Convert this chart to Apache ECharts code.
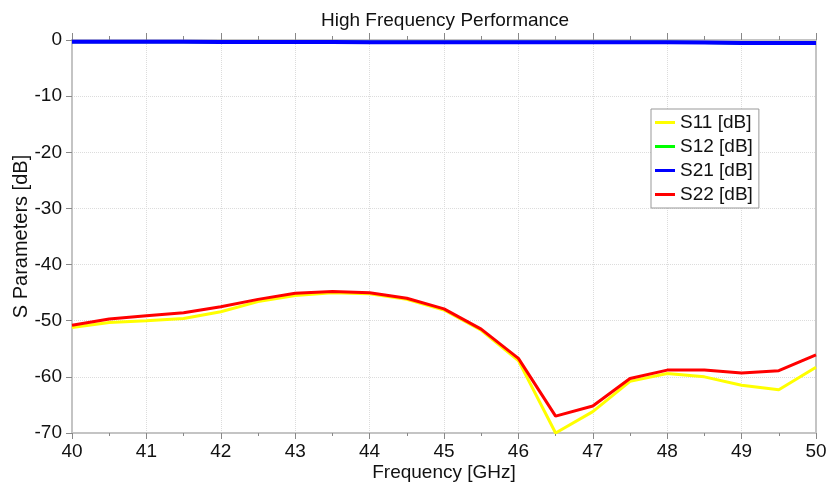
<!DOCTYPE html>
<html>
<head>
<meta charset="utf-8">
<script src="https://cdn.jsdelivr.net/npm/echarts@6/dist/echarts.min.js"></script>
<style>
  html, body { margin: 0; padding: 0; background: #fff; }
  #main { width: 830px; height: 487px; }
</style>
</head>
<body>
<div id="main"></div>
<script>
// frequency points (GHz)
var freq = [40, 40.5, 41, 41.5, 42, 42.5, 43, 43.5, 44, 44.5, 45, 45.5, 46, 46.5, 47, 47.5, 48, 48.5, 49, 49.5, 50];
// S parameters (dB)
var s11 = [-51.2, -50.3, -50.0, -49.6, -48.4, -46.6, -45.5, -45.0, -45.2, -46.2, -48.1, -51.7, -57.1, -70.0, -66.2, -60.8, -59.4, -60.0, -61.5, -62.3, -58.3];
var s12 = [-0.3, -0.3, -0.3, -0.3, -0.35, -0.35, -0.35, -0.35, -0.4, -0.4, -0.4, -0.4, -0.4, -0.4, -0.4, -0.4, -0.4, -0.45, -0.55, -0.55, -0.55];
var s21 = [-0.3, -0.3, -0.3, -0.3, -0.35, -0.35, -0.35, -0.35, -0.4, -0.4, -0.4, -0.4, -0.4, -0.4, -0.4, -0.4, -0.4, -0.45, -0.55, -0.55, -0.55];
var s22 = [-50.8, -49.7, -49.1, -48.6, -47.5, -46.2, -45.1, -44.8, -45.0, -46.0, -47.9, -51.5, -56.7, -67.0, -65.2, -60.3, -58.8, -58.8, -59.3, -58.9, -56.1];

var seriesNames = ['S11 [dB]', 'S12 [dB]', 'S21 [dB]', 'S22 [dB]'];
var seriesColors = ['#ffff00', '#00ff00', '#0000ff', '#ff0000'];
var seriesData = [s11, s12, s21, s22];

var font = 'Liberation Sans, Arial, sans-serif';
var axisGray = '#c4c4c4';

function pairs(ys) {
  return freq.map(function (f, i) { return [f, ys[i]]; });
}

var myChart = echarts.init(document.getElementById('main'));

var option = {
  animation: false,
  backgroundColor: '#fff',
  textStyle: { fontFamily: font },
  title: {
    text: 'High Frequency Performance',
    left: 316,
    top: 6,
    textStyle: { fontFamily: font, fontSize: 19, fontWeight: 'normal', color: '#111' }
  },
  legend: {
    orient: 'vertical',
    left: 651,
    top: 109,
    padding: [4, 6, 4, 4],
    itemGap: 5,
    itemWidth: 20,
    itemHeight: 3,
    itemTextGap: 2,
    icon: 'rect',
    backgroundColor: '#fff',
    borderColor: '#999',
    borderWidth: 1,
    borderRadius: 0,
    textStyle: { fontFamily: font, fontSize: 19, color: '#111' },
    data: seriesNames
  },
  grid: {
    left: 72,
    right: 14,
    top: 40,
    bottom: 54,
    outerBoundsMode: 'none'
  },
  xAxis: [
    {
      type: 'value',
      min: 40,
      max: 50,
      interval: 1,
      name: 'Frequency [GHz]',
      nameLocation: 'middle',
      nameGap: 30,
      nameMoveOverlap: false,
      nameTextStyle: { fontFamily: font, fontSize: 19, color: '#111' },
      axisLine: { show: true, onZero: false, lineStyle: { color: axisGray, width: 2 } },
      axisTick: { show: true, length: 6, lineStyle: { color: '#888' } },
      minorTick: { show: true, splitNumber: 2, length: 3, lineStyle: { color: '#888' } },
      axisLabel: { margin: 9, fontFamily: font, fontSize: 19, color: '#111' },
      splitLine: { show: true, lineStyle: { color: '#dcdcdc', type: 'dotted' } }
    },
    {
      type: 'value',
      position: 'top',
      min: 40,
      max: 50,
      interval: 1,
      axisLine: { show: true, onZero: false, lineStyle: { color: axisGray, width: 2 } },
      axisTick: { show: true, length: 7, lineStyle: { color: '#888' } },
      minorTick: { show: true, splitNumber: 2, length: 4, lineStyle: { color: '#888' } },
      axisLabel: { show: false },
      splitLine: { show: false }
    }
  ],
  yAxis: [
    {
      type: 'value',
      min: -70,
      max: 0,
      interval: 10,
      name: 'S Parameters [dB]',
      nameLocation: 'middle',
      nameGap: 41,
      nameMoveOverlap: false,
      nameTextStyle: { fontFamily: font, fontSize: 20, color: '#111' },
      axisLine: { show: true, onZero: false, lineStyle: { color: axisGray, width: 2 } },
      axisTick: { show: true, length: 6, lineStyle: { color: '#888' } },
      axisLabel: { margin: 10, fontFamily: font, fontSize: 19, color: '#111' },
      splitLine: { show: true, lineStyle: { color: '#dcdcdc', type: 'dotted' } }
    },
    {
      type: 'value',
      position: 'right',
      min: -70,
      max: 0,
      interval: 10,
      axisLine: { show: true, onZero: false, lineStyle: { color: axisGray, width: 2 } },
      axisTick: { show: false },
      axisLabel: { show: false },
      splitLine: { show: false }
    }
  ],
  series: seriesNames.map(function (name, i) {
    return {
      name: name,
      type: 'line',
      xAxisIndex: 0,
      yAxisIndex: 0,
      showSymbol: false,
      symbol: 'none',
      color: seriesColors[i],
      lineStyle: { color: seriesColors[i], width: i === 2 ? 4 : 3 },
      data: pairs(seriesData[i])
    };
  })
};

myChart.setOption(option);
window.onresize = function () {
  myChart.resize();
};
</script>
</body>
</html>
